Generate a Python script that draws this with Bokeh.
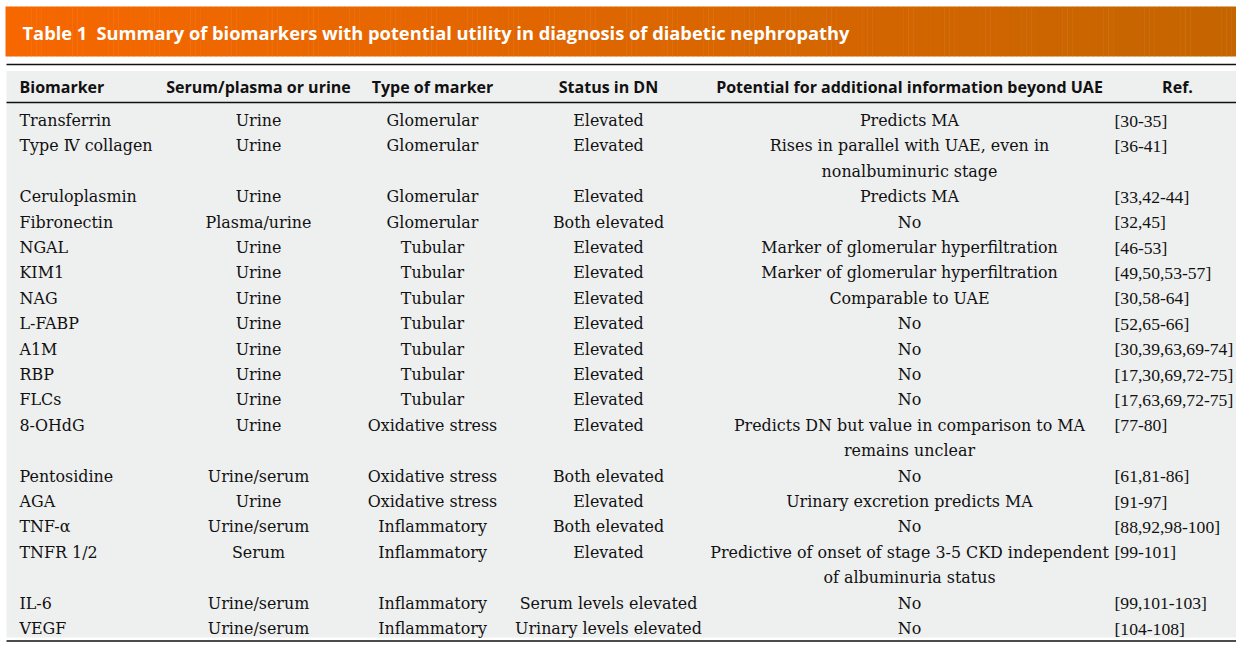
import numpy as np
from bokeh.plotting import figure
from bokeh.models import Range1d, ColumnDataSource
from bokeh.core.properties import value
from bokeh.embed import file_html
from bokeh.resources import INLINE

title = "Table 1\u2002Summary of biomarkers with potential utility in diagnosis of diabetic nephropathy"
headers = ["Biomarker", "Serum/plasma or urine", "Type of marker", "Status in DN",
           "Potential for additional information beyond UAE", "Ref."]

biomarkers = ["Transferrin", "Type Ⅳ collagen", "Ceruloplasmin", "Fibronectin", "NGAL", "KIM1",
              "NAG", "L-FABP", "A1M", "RBP", "FLCs", "8-OHdG", "Pentosidine", "AGA", "TNF-α",
              "TNFR 1/2", "IL-6", "VEGF"]
sample = ["Urine", "Urine", "Urine", "Plasma/urine", "Urine", "Urine", "Urine", "Urine", "Urine",
          "Urine", "Urine", "Urine", "Urine/serum", "Urine", "Urine/serum", "Serum",
          "Urine/serum", "Urine/serum"]
marker_type = ["Glomerular", "Glomerular", "Glomerular", "Glomerular", "Tubular", "Tubular",
               "Tubular", "Tubular", "Tubular", "Tubular", "Tubular", "Oxidative stress",
               "Oxidative stress", "Oxidative stress", "Inflammatory", "Inflammatory",
               "Inflammatory", "Inflammatory"]
status = ["Elevated", "Elevated", "Elevated", "Both elevated", "Elevated", "Elevated", "Elevated",
          "Elevated", "Elevated", "Elevated", "Elevated", "Elevated", "Both elevated", "Elevated",
          "Both elevated", "Elevated", "Serum levels elevated", "Urinary levels elevated"]
potential = ["Predicts MA",
             "Rises in parallel with UAE, even in\nnonalbuminuric stage",
             "Predicts MA", "No",
             "Marker of glomerular hyperfiltration",
             "Marker of glomerular hyperfiltration",
             "Comparable to UAE", "No", "No", "No", "No",
             "Predicts DN but value in comparison to MA\nremains unclear",
             "No", "Urinary excretion predicts MA", "No",
             "Predictive of onset of stage 3-5 CKD independent\nof albuminuria status",
             "No", "No"]
refs = ["[30-35]", "[36-41]", "[33,42-44]", "[32,45]", "[46-53]", "[49,50,53-57]", "[30,58-64]",
        "[52,65-66]", "[30,39,63,69-74]", "[17,30,69,72-75]", "[17,63,69,72-75]", "[77-80]",
        "[61,81-86]", "[91-97]", "[88,92,98-100]", "[99-101]", "[99,101-103]", "[104-108]"]

W, H = 1236, 642
p = figure(width=W, height=H, output_backend="svg", toolbar_location=None,
           x_range=Range1d(0, W), y_range=Range1d(H, 0), min_border=0)
p.axis.visible = False
p.grid.visible = False
p.outline_line_color = None
p.background_fill_color = "white"
p.border_fill_color = "white"

RIGHT = W
# orange gradient title bar
n = 240
edges = np.linspace(5, RIGHT, n + 1)
c0 = np.array([247, 104, 0]); c1 = np.array([197, 101, 0])
cols = ["#%02x%02x%02x" % tuple((c0 + (c1 - c0) * t).astype(int)) for t in np.linspace(0, 1, n)]
p.quad(left=edges[:-1], right=edges[1:] + 0.5, top=6, bottom=56, fill_color=cols, line_color=None)
p.text(x=[22], y=[32], text=[title], text_color="white", text_font=value("Open Sans"),
       text_font_style="bold", text_font_size="18.3px", text_baseline="middle", text_align="left")

# gray table background and rules
p.quad(left=[6], right=[RIGHT], top=[70.5], bottom=[637], fill_color="#eeefef", line_color=None)
for yy, w in [(64, 1.6), (102, 1.4), (640.5, 1.6)]:
    p.segment(x0=[6], x1=[RIGHT], y0=[yy], y1=[yy], line_color="#111111", line_width=w)

# header row
hx = [19, 258, 432, 608, 909, 1177]
halign = ["left", "center", "center", "center", "center", "center"]
for x, h, a in zip(hx, headers, halign):
    p.text(x=[x], y=[86], text=[h], text_color="#111111", text_font=value("Open Sans"),
           text_font_style="bold", text_font_size="16px", text_baseline="middle", text_align=a)

# body
row0, step = 120, 25.4
line = 0
xs, ys, ts, als = [], [], [], []
rx, ry, rt = [], [], []
for i in range(len(biomarkers)):
    y = row0 + line * step
    for x, t, a in [(19, biomarkers[i], "left"), (258, sample[i], "center"),
                    (432, marker_type[i], "center"), (608, status[i], "center")]:
        xs.append(x); ys.append(y); ts.append(t); als.append(a)
    rx.append(1114); ry.append(y); rt.append(refs[i])
    plines = potential[i].split("\n")
    for k, t in enumerate(plines):
        xs.append(909); ys.append(y + k * step); ts.append(t); als.append("center")
    line += len(plines)

src = ColumnDataSource(dict(x=xs, y=ys, text=ts, align=als))
p.text(x="x", y="y", text="text", text_align="align", source=src, text_color="#111111",
       text_font=value("DejaVu Serif"), text_font_size="15.9px", text_baseline="middle")
rsrc = ColumnDataSource(dict(x=rx, y=ry, text=rt))
p.text(x="x", y="y", text="text", text_align="left", source=rsrc, text_color="#111111",
       text_font=value("Liberation Serif"), text_font_size="17.6px", text_baseline="middle")

open("out.html", "w").write(file_html(p, INLINE))
